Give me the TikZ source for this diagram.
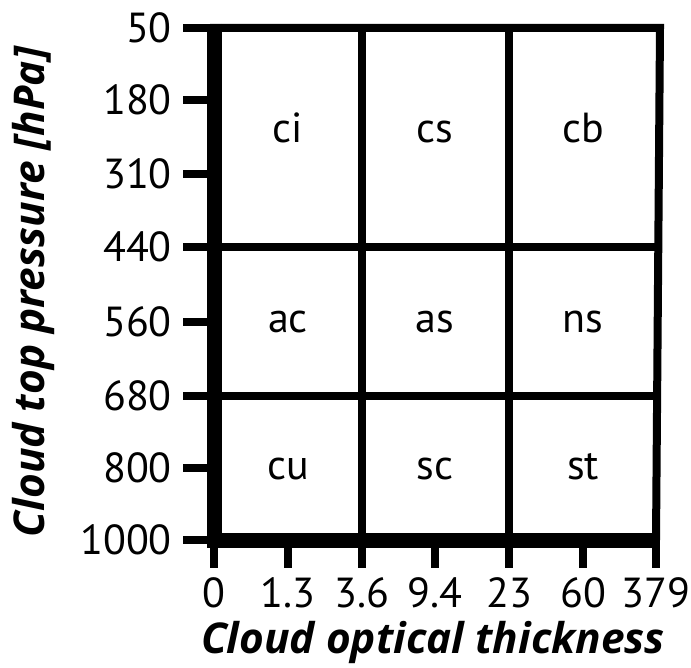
\documentclass[tikz,border=0pt]{standalone}
\usepackage{fontspec}
\setmainfont{PT Sans}
\newfontfamily\titlefont{Open Sans}
\begin{document}
\begin{tikzpicture}[x=1pt,y=-1pt,
  axisline/.style={line width=15pt},
  gridline/.style={line width=8pt},
  tickline/.style={line width=8pt},
  ticklab/.style={font=\fontsize{42}{46}\selectfont, inner sep=0pt},
  celllab/.style={font=\fontsize{42}{46}\selectfont, inner sep=0pt, anchor=base},
  axtitle/.style={font=\titlefont\fontsize{42.4}{46}\selectfont\bfseries\itshape, inner sep=0pt}]
\useasboundingbox (0,0) rectangle (691,668);
% corner coordinates
\coordinate (tl) at (214,28);
\coordinate (tr) at (656,28);
\coordinate (bl) at (214,540);
\coordinate (br) at (656,540);
% grid lines
\coordinate (h1l) at (214,247); \coordinate (h1r) at (656,247);
\coordinate (h2l) at (214,396); \coordinate (h2r) at (656,396);
\coordinate (v1t) at (362,28); \coordinate (v1b) at (362,540);
\coordinate (v2t) at (509,28); \coordinate (v2b) at (509,540);
\draw[gridline] (h1l) -- (h1r);
\draw[gridline] (h2l) -- (h2r);
\draw[gridline] (v1t) -- (v1b);
\draw[gridline] (v2t) -- (v2b);
\draw[gridline] ([xshift=-4pt]tl) -- ([xshift=4pt]tr) -- (br);
% y ticks and labels
\foreach \lab/\yy in {50/28,180/100,310/174,440/247,560/322,680/396,800/468,1000/540}{
  \coordinate (yt\lab) at (183,\yy);
  \coordinate (ya\lab) at (214,\yy);
  \draw[tickline] (yt\lab) -- (ya\lab);
  \node[ticklab, anchor=east] (yl\lab) at (172,\yy) {\lab};
}
% x ticks and labels
\foreach \lab/\xx [count=\i] in {0/214,1.3/288,3.6/362,9.4/435,23/509,60/583,379/656}{
  \coordinate (xa\i) at (\xx,540);
  \coordinate (xt\i) at (\xx,568);
  \draw[tickline] (xa\i) -- (xt\i);
  \node[ticklab] (xl\i) at (\xx,593) {\lab};
}
% axes
\draw[axisline] ([yshift=4pt]tl) -- ([yshift=-7pt]bl);
\draw[axisline] ([xshift=-7pt]bl) -- ([xshift=4pt]br);
% cells
\node[celllab] (ci) at (288,143) {ci};
\node[celllab] (cs) at (435,143) {cs};
\node[celllab] (cb) at (583,143) {cb};
\node[celllab] (ac) at (288,333) {ac};
\node[celllab] (as) at (435,333) {as};
\node[celllab] (ns) at (583,333) {ns};
\node[celllab] (cu) at (288,479) {cu};
\node[celllab] (sc) at (435,479) {sc};
\node[celllab] (st) at (583,479) {st};
% titles
\node[axtitle] (xtitle) at (433,642) {Cloud optical thickness};
\node[axtitle, rotate=90] (ytitle) at (33,292) {Cloud top pressure [hPa]};
\end{tikzpicture}
\end{document}
